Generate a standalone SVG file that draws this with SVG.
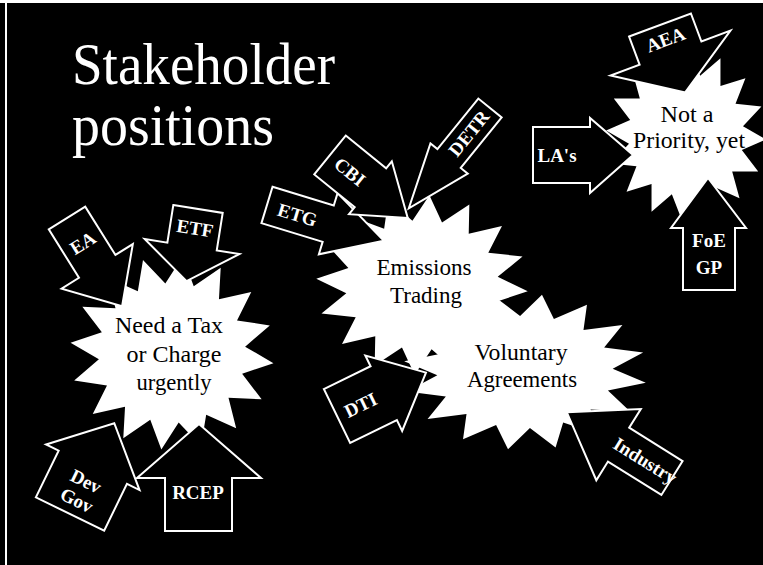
<svg xmlns="http://www.w3.org/2000/svg" xmlns:xlink="http://www.w3.org/1999/xlink" width="763" height="565" viewBox="0 0 763 565">
<defs>
<style>
.bg{fill:#000}
.star{fill:#fff}
.arr{fill:#000;stroke:#fff;stroke-width:2;stroke-linejoin:miter}
.title{font-family:"Liberation Serif","Times New Roman",serif;fill:#fff;font-size:60px}
.st{font-family:"Liberation Serif","Times New Roman",serif;fill:#000;text-anchor:middle}
.al{font-family:"Liberation Serif","Times New Roman",serif;fill:#fff;text-anchor:middle;font-size:19px;font-weight:bold}
</style>
<polygon id="star" points="1,0 0.706,0.14 0.924,0.383 0.599,0.4 0.707,0.707 0.4,0.599 0.383,0.924 0.14,0.706 0,1 -0.14,0.706 -0.383,0.924 -0.4,0.599 -0.707,0.707 -0.599,0.4 -0.924,0.383 -0.706,0.14 -1,0 -0.706,-0.14 -0.924,-0.383 -0.599,-0.4 -0.707,-0.707 -0.4,-0.599 -0.383,-0.924 -0.14,-0.706 0,-1 0.14,-0.706 0.383,-0.924 0.4,-0.599 0.707,-0.707 0.599,-0.4 0.924,-0.383 0.706,-0.14"/>
</defs>
<rect class="bg" x="0" y="0" width="763" height="565"/>
<rect x="0" y="0" width="763" height="3" fill="#fff"/>
<rect x="5" y="0" width="2" height="565" fill="#fff"/>

<g id="title">
<text class="title" x="72" y="84" textLength="263" lengthAdjust="spacingAndGlyphs">Stakeholder</text>
<text class="title" x="72" y="145" textLength="202" lengthAdjust="spacingAndGlyphs">positions</text>
</g>

<g id="star-emissions">
<use xlink:href="#star" href="#star" class="star" transform="translate(422,285) scale(106,90) rotate(4)"/>
</g>
<g id="star-voluntary">
<use xlink:href="#star" href="#star" class="star" transform="translate(525,372) scale(122,78) rotate(8)"/>
</g>
<g id="star-tax">
<use xlink:href="#star" href="#star" class="star" transform="translate(172,353) scale(102,97) rotate(6)"/>
</g>
<g id="star-priority">
<use xlink:href="#star" href="#star" class="star" transform="translate(686,135) scale(80,85) rotate(3)"/>
</g>

<g id="connectors"></g>

<g id="arrow-las">
<polygon class="arr" points="533,127 590,127 590,118 633,155 590,193 590,183 533,183"/>
<text class="al" x="557" y="162">LA's</text>
</g>
<g id="arrow-aea" transform="translate(660,25) rotate(-20.5)">
<polygon class="arr" points="-33,0 33,0 33,30 64,30 0,72 -64,30 -33,30"/>
<text class="al" x="0" y="22" font-size="17">AEA</text>
</g>
<g id="arrow-foe">
<polygon class="arr" points="683,290 683,228 671,228 708,178 746,228 735,228 735,290"/>
<text class="al" x="709" y="247">FoE</text>
<text class="al" x="709" y="274">GP</text>
</g>
<g id="arrow-ea" transform="translate(67,218) rotate(-32)">
<polygon class="arr" points="-21.5,0 21.5,0 21.5,57 42,57 0,104 -42,57 -21.5,57"/>
<text class="al" x="0" y="36">EA</text>
</g>
<g id="arrow-etf" transform="translate(198,209) rotate(9)">
<polygon class="arr" points="-25,0 25,0 25,38 48,38 0,73 -48,38 -25,38"/>
<text class="al" x="0" y="26">ETF</text>
</g>
<g id="arrow-devgov" transform="translate(70,514) rotate(26)">
<polygon class="arr" points="-38,0 -38,-52 -52,-52 0,-101 52,-52 38,-52 38,0"/>
<text class="al" x="0" y="-30">Dev</text>
<text class="al" x="0" y="-9">Gov</text>
</g>
<g id="arrow-rcep">
<polygon class="arr" points="165,531 165,478 137,478 199,424 261,478 232,478 232,531"/>
<text class="al" x="198" y="499">RCEP</text>
</g>
<g id="arrow-etg" transform="translate(267,205) rotate(17)">
<polygon class="arr" points="0,-19 64,-19 64,-32 122,0 64,32 64,19 0,19"/>
<text class="al" x="32" y="7">ETG</text>
</g>
<g id="arrow-cbi" transform="translate(330,155) rotate(39)">
<polygon class="arr" points="0,-25 52,-25 52,-34 100,0 52,34 52,25 0,25"/>
<text class="al" x="26" y="7">CBI</text>
</g>
<g id="arrow-detr" transform="translate(490,108) rotate(-51)">
<polygon class="arr" points="0,-15 -65,-15 -65,-24 -129,0 -65,24 -65,15 0,15"/>
<text class="al" x="-33" y="6" font-size="16">DETR</text>
</g>
<g id="arrow-dti" transform="translate(337,416) rotate(-26)">
<polygon class="arr" points="0,-30 52,-30 52,-42 99,0 52,42 52,30 0,30"/>
<text class="al" x="26" y="7">DTI</text>
</g>
<g id="arrow-industry" transform="translate(672,478) rotate(32)">
<polygon class="arr" points="0,-20 -63,-20 -63,-42 -124,0 -63,42 -63,20 0,20"/>
<text class="al" x="-32" y="6" font-size="17">Industry</text>
</g>

<g id="labels">
<text class="st" x="424" y="275" font-size="24" textLength="95" lengthAdjust="spacingAndGlyphs">Emissions</text>
<text class="st" x="426" y="303" font-size="24" textLength="72" lengthAdjust="spacingAndGlyphs">Trading</text>
<text class="st" x="521" y="360" font-size="24" textLength="93" lengthAdjust="spacingAndGlyphs">Voluntary</text>
<text class="st" x="522" y="387" font-size="24" textLength="110" lengthAdjust="spacingAndGlyphs">Agreements</text>
<text class="st" x="169" y="333" font-size="23" textLength="108" lengthAdjust="spacingAndGlyphs">Need a Tax</text>
<text class="st" x="174" y="362" font-size="23" textLength="95" lengthAdjust="spacingAndGlyphs">or Charge</text>
<text class="st" x="174" y="390" font-size="23" textLength="75" lengthAdjust="spacingAndGlyphs">urgently</text>
<text class="st" x="687" y="122" font-size="23" textLength="53" lengthAdjust="spacingAndGlyphs">Not a</text>
<text class="st" x="689" y="148" font-size="23" textLength="112" lengthAdjust="spacingAndGlyphs">Priority, yet</text>
</g>
</svg>
